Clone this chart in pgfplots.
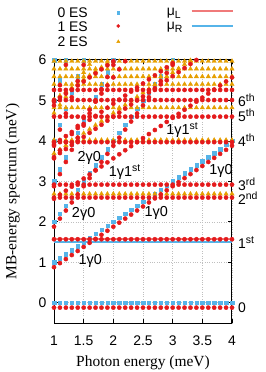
\documentclass[border=0pt]{standalone}
\usepackage{fontspec}
\setmainfont{Liberation Serif}
\newfontfamily\arial{Liberation Sans}
\usepackage{pgfplots}
\usepackage{pgfplotstable}
\pgfplotsset{compat=1.18}
\definecolor{cblue}{HTML}{56B4E9}
\definecolor{cred}{HTML}{E41A1C}
\definecolor{corange}{HTML}{E69F00}
\definecolor{cpink}{HTML}{F07A7A}
\definecolor{cline}{HTML}{56B4E9}
\newcommand{\sups}[1]{\raisebox{5bp}{\fontsize{10.5}{12}\selectfont #1}}
\newcommand{\subs}[1]{\raisebox{-3bp}{\fontsize{10.5}{12}\selectfont #1}}

% 0 ES
\pgfplotstableread{
x   b0  b1  b2  b3  b4  b5  b6
1.0 0 1.0 2.0 3.0 4.0 5.0 6.0
1.1 0 1.1 2.2 3.3 4.4 5.5 nan
1.2 0 1.2 2.4 3.6 4.8 6.0 nan
1.3 0 1.3 2.6 3.9 5.2 nan nan
1.4 0 1.4 2.8 4.2 5.6 nan nan
1.5 0 1.5 3.0 4.5 6.0 nan nan
1.6 0 1.6 3.2 4.8 nan nan nan
1.7 0 1.7 3.4 5.1 nan nan nan
1.8 0 1.8 3.6 5.4 nan nan nan
1.9 0 1.9 3.8 5.7 nan nan nan
2.0 0 2.0 4.0 6.0 nan nan nan
2.1 0 2.1 4.2 nan nan nan nan
2.2 0 2.2 4.4 nan nan nan nan
2.3 0 2.3 4.6 nan nan nan nan
2.4 0 2.4 4.8 nan nan nan nan
2.5 0 2.5 5.0 nan nan nan nan
2.6 0 2.6 5.2 nan nan nan nan
2.7 0 2.7 5.4 nan nan nan nan
2.8 0 2.8 5.6 nan nan nan nan
2.9 0 2.9 5.8 nan nan nan nan
3.0 0 3.0 6.0 nan nan nan nan
3.1 0 3.1 nan nan nan nan nan
3.2 0 3.2 nan nan nan nan nan
3.3 0 3.3 nan nan nan nan nan
3.4 0 3.4 nan nan nan nan nan
3.5 0 3.5 nan nan nan nan nan
3.6 0 3.6 nan nan nan nan nan
3.7 0 3.7 nan nan nan nan nan
3.8 0 3.8 nan nan nan nan nan
3.9 0 3.9 nan nan nan nan nan
4.0 0 4.0 nan nan nan nan nan
}\zeroES

% 1 ES
\pgfplotstableread{
x r0 r1 r2 r3 r4 r5 r6 r7 d1 d2 d3 d4 d5 e1 e2 f1 g1 h1
1.0 -0.12 1.57 2.60 2.92 3.97 4.60 5.01 5.26 0.88 1.88 2.88 3.88 4.88 2.57 3.57 3.60 3.92 4.97
1.1 -0.12 1.57 2.60 2.92 3.97 4.60 5.01 5.26 0.98 2.08 3.18 4.28 5.38 2.67 3.77 3.70 4.02 5.07
1.2 -0.12 1.57 2.60 2.92 3.97 4.60 5.01 5.26 1.08 2.28 3.48 4.68 5.88 2.77 3.97 3.80 4.12 5.17
1.3 -0.12 1.57 2.60 2.92 3.97 4.60 5.01 5.26 1.18 2.48 3.78 5.08 nan 2.87 4.17 3.90 4.22 5.27
1.4 -0.12 1.57 2.60 2.92 3.97 4.60 5.01 5.26 1.28 2.68 4.08 5.48 nan 2.97 4.37 4.00 4.32 5.37
1.5 -0.12 1.57 2.60 2.92 3.97 4.60 5.01 5.26 1.38 2.88 4.38 5.88 nan 3.07 4.57 4.10 4.42 5.47
1.6 -0.12 1.57 2.60 2.92 3.97 4.60 5.01 5.26 1.48 3.08 4.68 nan nan 3.17 4.77 4.20 4.52 5.57
1.7 -0.12 1.57 2.60 2.92 3.97 4.60 5.01 5.26 1.58 3.28 4.98 nan nan 3.27 4.97 4.30 4.62 5.67
1.8 -0.12 1.57 2.60 2.92 3.97 4.60 5.01 5.26 1.68 3.48 5.28 nan nan 3.37 5.17 4.40 4.72 5.77
1.9 -0.12 1.57 2.60 2.92 3.97 4.60 5.01 5.26 1.78 3.68 5.58 nan nan 3.47 5.37 4.50 4.82 5.87
2.0 -0.12 1.57 2.60 2.92 3.97 4.60 5.01 5.26 1.88 3.88 5.88 nan nan 3.57 5.57 4.60 4.92 5.97
2.1 -0.12 1.57 2.60 2.92 3.97 4.60 5.01 5.26 1.98 4.08 nan nan nan 3.67 5.77 4.70 5.02 nan
2.2 -0.12 1.57 2.60 2.92 3.97 4.60 5.01 5.26 2.08 4.28 nan nan nan 3.77 5.97 4.80 5.12 nan
2.3 -0.12 1.57 2.60 2.92 3.97 4.60 5.01 5.26 2.18 4.48 nan nan nan 3.87 nan 4.90 5.22 nan
2.4 -0.12 1.57 2.60 2.92 3.97 4.60 5.01 5.26 2.28 4.68 nan nan nan 3.97 nan 5.00 5.32 nan
2.5 -0.12 1.57 2.60 2.92 3.97 4.60 5.01 5.26 2.38 4.88 nan nan nan 4.07 nan 5.10 5.42 nan
2.6 -0.12 1.57 2.60 2.92 3.97 4.60 5.01 5.26 2.48 5.08 nan nan nan 4.17 nan 5.20 5.52 nan
2.7 -0.12 1.57 2.60 2.92 3.97 4.60 5.01 5.26 2.58 5.28 nan nan nan 4.27 nan 5.30 5.62 nan
2.8 -0.12 1.57 2.60 2.92 3.97 4.60 5.01 5.26 2.68 5.48 nan nan nan 4.37 nan 5.40 5.72 nan
2.9 -0.12 1.57 2.60 2.92 3.97 4.60 5.01 5.26 2.78 5.68 nan nan nan 4.47 nan 5.50 5.82 nan
3.0 -0.12 1.57 2.60 2.92 3.97 4.60 5.01 5.26 2.88 5.88 nan nan nan 4.57 nan 5.60 5.92 nan
3.1 -0.12 1.57 2.60 2.92 3.97 4.60 5.01 5.26 2.98 nan nan nan nan 4.67 nan 5.70 nan nan
3.2 -0.12 1.57 2.60 2.92 3.97 4.60 5.01 5.26 3.08 nan nan nan nan 4.77 nan 5.80 nan nan
3.3 -0.12 1.57 2.60 2.92 3.97 4.60 5.01 5.26 3.18 nan nan nan nan 4.87 nan 5.90 nan nan
3.4 -0.12 1.57 2.60 2.92 3.97 4.60 5.01 5.26 3.28 nan nan nan nan 4.97 nan 6.00 nan nan
3.5 -0.12 1.57 2.60 2.92 3.97 4.60 5.01 5.26 3.38 nan nan nan nan 5.07 nan nan nan nan
3.6 -0.12 1.57 2.60 2.92 3.97 4.60 5.01 5.26 3.48 nan nan nan nan 5.17 nan nan nan nan
3.7 -0.12 1.57 2.60 2.92 3.97 4.60 5.01 5.26 3.58 nan nan nan nan 5.27 nan nan nan nan
3.8 -0.12 1.57 2.60 2.92 3.97 4.60 5.01 5.26 3.68 nan nan nan nan 5.37 nan nan nan nan
3.9 -0.12 1.57 2.60 2.92 3.97 4.60 5.01 5.26 3.78 nan nan nan nan 5.47 nan nan nan nan
4.0 -0.12 1.57 2.60 2.92 3.97 4.60 5.01 5.26 3.88 nan nan nan nan 5.57 nan nan nan nan
}\oneES

% 2 ES
\pgfplotstableread{
x o0 o1 o2 o3 o4 o5 o6 p1 p2 p3
1.0 2.69 4.02 4.82 5.40 5.59 5.78 5.97 3.69 5.02 4.69
1.1 2.69 4.02 4.82 5.40 5.59 5.78 5.97 3.79 5.12 4.89
1.2 2.69 4.02 4.82 5.40 5.59 5.78 5.97 3.89 5.22 5.09
1.3 2.69 4.02 4.82 5.40 5.59 5.78 5.97 3.99 5.32 5.29
1.4 2.69 4.02 4.82 5.40 5.59 5.78 5.97 4.09 5.42 5.49
1.5 2.69 4.02 4.82 5.40 5.59 5.78 5.97 4.19 5.52 5.69
1.6 2.69 4.02 4.82 5.40 5.59 5.78 5.97 4.29 5.62 5.89
1.7 2.69 4.02 4.82 5.40 5.59 5.78 5.97 4.39 5.72 nan
1.8 2.69 4.02 4.82 5.40 5.59 5.78 5.97 4.49 5.82 nan
1.9 2.69 4.02 4.82 5.40 5.59 5.78 5.97 4.59 5.92 nan
2.0 2.69 4.02 4.82 5.40 5.59 5.78 5.97 4.69 nan nan
2.1 2.69 4.02 4.82 5.40 5.59 5.78 5.97 4.79 nan nan
2.2 2.69 4.02 4.82 5.40 5.59 5.78 5.97 4.89 nan nan
2.3 2.69 4.02 4.82 5.40 5.59 5.78 5.97 4.99 nan nan
2.4 2.69 4.02 4.82 5.40 5.59 5.78 5.97 5.09 nan nan
2.5 2.69 4.02 4.82 5.40 5.59 5.78 5.97 5.19 nan nan
2.6 2.69 4.02 4.82 5.40 5.59 5.78 5.97 5.29 nan nan
2.7 2.69 4.02 4.82 5.40 5.59 5.78 5.97 5.39 nan nan
2.8 2.69 4.02 4.82 5.40 5.59 5.78 5.97 5.49 nan nan
2.9 2.69 4.02 4.82 5.40 5.59 5.78 5.97 5.59 nan nan
3.0 2.69 4.02 4.82 5.40 5.59 5.78 5.97 5.69 nan nan
3.1 2.69 4.02 4.82 5.40 5.59 5.78 5.97 5.79 nan nan
3.2 2.69 4.02 4.82 5.40 5.59 5.78 5.97 5.89 nan nan
3.3 2.69 4.02 4.82 5.40 5.59 5.78 5.97 5.99 nan nan
3.4 2.69 4.02 4.82 5.40 5.59 5.78 5.97 nan nan nan
3.5 2.69 4.02 4.82 5.40 5.59 5.78 5.97 nan nan nan
3.6 2.69 4.02 4.82 5.40 5.59 5.78 5.97 nan nan nan
3.7 2.69 4.02 4.82 5.40 5.59 5.78 5.97 nan nan nan
3.8 2.69 4.02 4.82 5.40 5.59 5.78 5.97 nan nan nan
3.9 2.69 4.02 4.82 5.40 5.59 5.78 5.97 nan nan nan
4.0 2.69 4.02 4.82 5.40 5.59 5.78 5.97 nan nan nan
}\twoES

\pgfplotsset{
  bm/.style={only marks, mark=square*, color=cblue, mark size=1.7bp, forget plot},
  rm/.style={only marks, mark=*, color=cred, mark size=2.1bp, forget plot},
  om/.style={only marks, mark=triangle*, color=corange, mark size=2.5bp, forget plot},
}

\begin{document}
\begin{tikzpicture}
\useasboundingbox (0,0) rectangle (266bp,372bp);
\begin{axis}[
  at={(54bp,49bp)}, anchor=south west,
  scale only axis, width=178bp, height=263bp,
  xmin=1, xmax=4, ymin=-0.5, ymax=6,
  xtick={1,1.5,2,2.5,3,3.5,4}, ytick={0,1,2,3,4,5,6},
  clip=false,
  axis line style={line width=1bp, black},
  tick style={line width=0.8bp, black},
  tick align=inside, major tick length=4bp,
  grid=major, grid style={dotted, line width=0.6bp, gray!50},
  /pgf/number format/assume math mode=true,
  ticklabel style={font=\arial\fontsize{14}{16}\selectfont},
  xticklabel style={yshift=-9bp},
  yticklabel style={xshift=-4bp},
  xlabel={Photon energy (meV)},
  ylabel={MB-energy spectrum (meV)},
  label style={font=\fontsize{15.5}{18}\selectfont},
  xlabel style={at={(axis description cs:0.5,-0.152)}, anchor=center},
  ylabel style={at={(axis description cs:-0.232,0.5)}, anchor=center},
]
% chemical potentials
\addplot[cpink, line width=2bp, forget plot] coordinates {(1,1.57) (4,1.57)};
\addplot[cline, line width=2bp, forget plot] coordinates {(1,1.49) (4,1.49)};
% 0 ES
\pgfplotsinvokeforeach{b0,b1,b2,b3,b4,b5,b6}{
  \addplot[bm] table[x=x,y=#1]{\zeroES};
}
% 2 ES
\pgfplotsinvokeforeach{o0,o1,o2,o3,o4,o5,o6,p1,p2,p3}{
  \addplot[om] table[x=x,y=#1]{\twoES};
}
% 1 ES
\pgfplotsinvokeforeach{r0,r1,r2,r3,r4,r5,r6,r7,d1,d2,d3,d4,d5,e1,e2,f1,g1,h1}{
  \addplot[rm] table[x=x,y=#1]{\oneES};
}
% legend keys (drawn above the plot area)
\addplot[bm, mark size=1.2bp] coordinates {(2.084,7.169)};
\addplot[rm, mark size=1.6bp] coordinates {(2.084,6.840)};
\addplot[om, mark size=1.9bp] coordinates {(2.084,6.452)};
\addplot[cpink, line width=1.8bp, forget plot] coordinates {(3.321,7.205) (4.012,7.205)};
\addplot[cline, line width=1.4bp, forget plot] coordinates {(3.321,6.840) (4.012,6.840)};
\begin{scope}[every node/.style={font=\arial\fontsize{14}{16}\selectfont, inner sep=0pt, anchor=base west}]
\node at (axis cs:1.056,7.056) {0 ES};
\node at (axis cs:1.056,6.700) {1 ES};
\node at (axis cs:1.056,6.339) {2 ES};
\node at (axis cs:2.90,7.10) {μ\subs{L}};
\node at (axis cs:2.90,6.766) {μ\subs{R}};
\end{scope}
% annotations
\begin{scope}[every node/.style={font=\arial\fontsize{14.5}{16}\selectfont, inner sep=0pt, anchor=base west}]
\node at (axis cs:1.41,0.94) {1γ0};
\node at (axis cs:2.525,2.12) {1γ0};
\node at (axis cs:3.615,3.18) {1γ0};
\node at (axis cs:1.30,2.10) {2γ0};
\node at (axis cs:1.395,3.49) {2γ0};
\node at (axis cs:1.92,3.12) {1γ1\sups{st}};
\node at (axis cs:2.89,4.17) {1γ1\sups{st}};
\end{scope}
\begin{scope}[every node/.style={font=\arial\fontsize{14}{16}\selectfont, inner sep=0pt, anchor=base west}]
\node at (axis cs:4.10,-0.24) {0};
\node at (axis cs:4.10,1.35) {1\sups{st}};
\node at (axis cs:4.10,2.44) {2\sups{nd}};
\node at (axis cs:4.10,2.77) {3\sups{rd}};
\node at (axis cs:4.10,3.86) {4\sups{th}};
\node at (axis cs:4.10,4.49) {5\sups{th}};
\node at (axis cs:4.10,4.86) {6\sups{th}};
\end{scope}
\end{axis}
\end{tikzpicture}
\end{document}
